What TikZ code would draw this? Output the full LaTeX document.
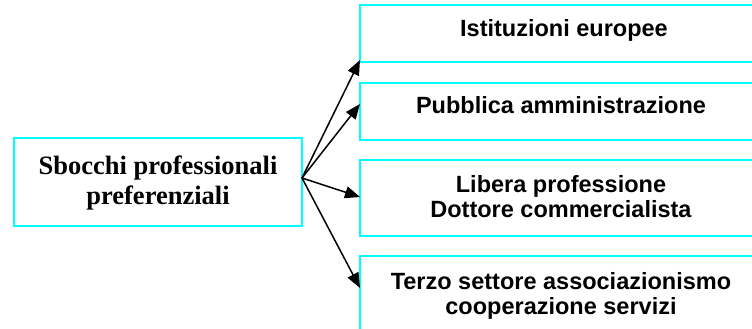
\documentclass[tikz,border=0pt]{standalone}
\usepackage{fontspec}
\setmainfont{Liberation Serif}
\setsansfont{Liberation Sans}
\usetikzlibrary{arrows.meta}
\definecolor{cy}{RGB}{0,255,255}
\begin{document}
\begin{tikzpicture}[x=1pt,y=-1pt,
  box/.style={draw=cy,line width=1.8pt},
  rtext/.style={font=\sffamily\bfseries\fontsize{23.5}{25}\selectfont,align=center,anchor=base,inner sep=0pt},
  ltext/.style={font=\rmfamily\bfseries\fontsize{26.5}{30}\selectfont,align=center,anchor=base,inner sep=0pt},
  arr/.style={draw=black,line width=1.5pt,-{Triangle[length=15pt,width=12pt]}}]
\useasboundingbox (0,0) rectangle (752,329);
\clip (0,0) rectangle (752,329);
\draw[box] (14,138) rectangle (302,226);
\node[ltext] (src) at (158,204) {Sbocchi professionali\\preferenziali};
\coordinate (o) at (302,178);
\draw[box] (360,5) rectangle (765,62);
\draw[box] (360,83) rectangle (765,140);
\draw[box] (360,160) rectangle (765,236);
\draw[box] (360,256) rectangle (765,340);
\node[rtext] (b1) at (564,37) {Istituzioni europee};
\node[rtext] (b2) at (561,113) {Pubblica amministrazione};
\node[rtext] (b3) at (561,217) {Libera professione\\Dottore commercialista};
\node[rtext] (b4) at (561,314) {Terzo settore associazionismo\\cooperazione servizi};
\coordinate (t1) at (360,60);
\coordinate (t2) at (360,104);
\coordinate (t3) at (360,197);
\coordinate (t4) at (360,288);
\draw[arr] (o) -- (t1);
\draw[arr] (o) -- (t2);
\draw[arr] (o) -- (t3);
\draw[arr] (o) -- (t4);
\end{tikzpicture}
\end{document}
